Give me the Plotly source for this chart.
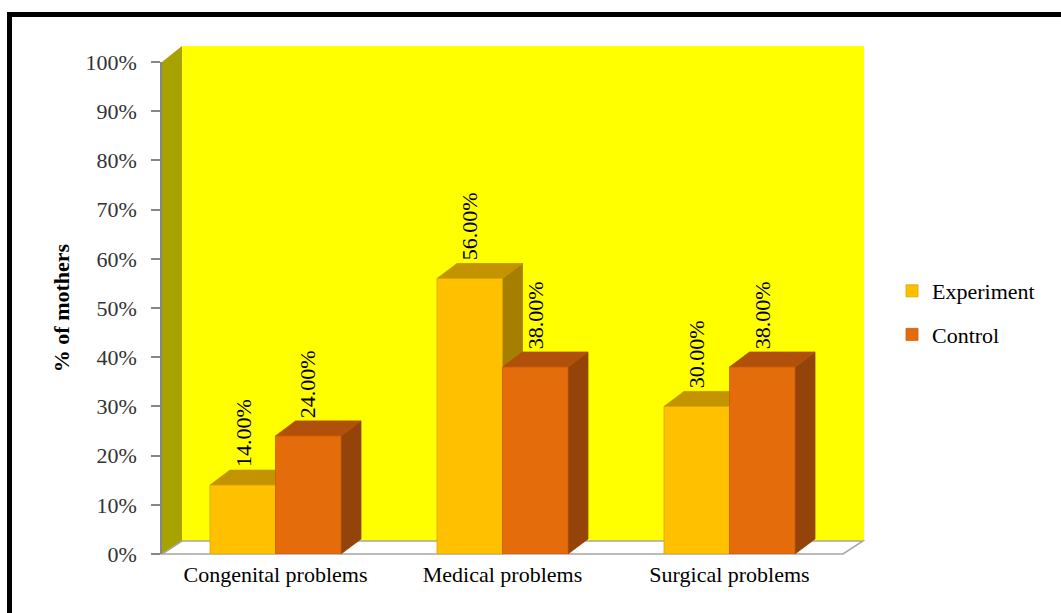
import plotly.graph_objects as go

categories = ["Congenital problems", "Medical problems", "Surgical problems"]
experiment = [14, 56, 30]
control = [24, 38, 38]
y_ticks = [0, 10, 20, 30, 40, 50, 60, 70, 80, 90, 100]
y_tick_labels = ["0%", "10%", "20%", "30%", "40%", "50%", "60%", "70%", "80%", "90%", "100%"]

W, H = 1061, 613
L, R, T, B = 162, 843, 62, 554  # plot area in pixels
BARGAP = 0.423
DX_PX, DY_PX = 20, 15
FONT = "Liberation Serif"

EXP_COL = dict(front="#FFC000", top="#C49400", side="#A67E00", edge="#D9A300")
CON_COL = dict(front="#E46C0A", top="#B1500A", side="#944409", edge="#C85E08")


def px(x):
    return (x - L) / (R - L)


def py(y):
    return (B - y) / (B - T)


dxu = DX_PX / ((R - L) / len(categories))
dyu = DY_PX / ((B - T) / 100)
bw = (1 - BARGAP) / 2

fig = go.Figure()
fig.add_trace(go.Bar(x=categories, y=experiment, name="Experiment",
                     marker=dict(color=EXP_COL["front"], line=dict(color=EXP_COL["edge"], width=0.8)),
                     legendgroup="a"))
fig.add_trace(go.Bar(x=categories, y=control, name="Control",
                     marker=dict(color=CON_COL["front"], line=dict(color=CON_COL["edge"], width=0.8)),
                     legendgroup="b"))

shapes = []
# outer frame
shapes.append(dict(type="rect", xref="paper", yref="paper",
                   x0=px(9.5), x1=px(W + 20), y0=py(14.5), y1=py(H + 20),
                   line=dict(color="black", width=5), fillcolor="rgba(0,0,0,0)", layer="above"))
# side wall
shapes.append(dict(type="path", xref="paper", yref="paper", layer="below",
                   path=f"M {px(L)},{py(T)} L {px(L+DX_PX)},{py(T-16)} L {px(L+DX_PX)},{py(B-13)} L {px(L)},{py(B)} Z",
                   fillcolor="#A8A200", line=dict(width=0)))
# back wall
shapes.append(dict(type="rect", xref="paper", yref="paper", layer="below",
                   x0=px(L + DX_PX), x1=px(R + DX_PX + 1), y0=py(B - 13), y1=py(T - 16),
                   fillcolor="#FFFF00", line=dict(width=0)))
# floor
shapes.append(dict(type="path", xref="paper", yref="paper", layer="below",
                   path=f"M {px(L)},{py(B)} L {px(R)},{py(B)} L {px(R+DX_PX)},{py(B-13)} L {px(L+DX_PX)},{py(B-13)} Z",
                   fillcolor="white", line=dict(color="#A6A6A6", width=1.5)))

annotations = []
for i, cat in enumerate(categories):
    for vals, cols, off in ((experiment, EXP_COL, -bw), (control, CON_COL, 0.0)):
        v = vals[i]
        x0 = i + off
        x1 = x0 + bw
        # side face
        shapes.append(dict(type="path", xref="x", yref="y", layer="below",
                           path=f"M {x1},0 L {x1+dxu},{dyu} L {x1+dxu},{v+dyu} L {x1},{v} Z",
                           fillcolor=cols["side"], line=dict(color=cols["side"], width=0.8)))
        # top face
        shapes.append(dict(type="path", xref="x", yref="y", layer="below",
                           path=f"M {x0},{v} L {x1},{v} L {x1+dxu},{v+dyu} L {x0+dxu},{v+dyu} Z",
                           fillcolor=cols["top"], line=dict(color=cols["top"], width=0.8)))
        annotations.append(dict(x=(x0 + x1) / 2, y=v + dyu, xref="x", yref="y",
                                text=f"{v:.2f}%", textangle=-90, showarrow=False,
                                xanchor="center", yanchor="bottom", yshift=1,
                                font=dict(family=FONT, size=22, color="black")))

fig.update_layout(
    width=W, height=H,
    margin=dict(l=L, r=W - R, t=T, b=H - B, pad=0),
    paper_bgcolor="white", plot_bgcolor="rgba(0,0,0,0)",
    barmode="group", bargap=BARGAP, bargroupgap=0,
    font=dict(family=FONT, size=22, color="black"),
    shapes=shapes, annotations=annotations,
    showlegend=True,
    legend=dict(x=px(892), y=py(313), xanchor="left", yanchor="middle",
                font=dict(family=FONT, size=22, color="black"),
                traceorder="grouped", tracegroupgap=12, itemwidth=30,
                bgcolor="rgba(0,0,0,0)"),
    xaxis=dict(range=[-0.5, 2.5], showgrid=False, zeroline=False, showline=False,
               ticks="", tickfont=dict(family=FONT, size=22, color="black"),
               ticklabelstandoff=5),
    yaxis=dict(range=[0, 100], tickvals=y_ticks, ticktext=y_tick_labels,
               showgrid=False, zeroline=False, showline=True, linecolor="#868686", linewidth=1.5,
               ticks="outside", ticklen=9, tickcolor="#868686", tickwidth=1.5,
               ticklabelstandoff=10,
               tickfont=dict(family=FONT, size=22, color="#333333"),
               title=dict(text="<b>% of mothers</b>", standoff=10,
                          font=dict(family=FONT, size=22, color="black"))),
)

fig.write_html("out.html")
